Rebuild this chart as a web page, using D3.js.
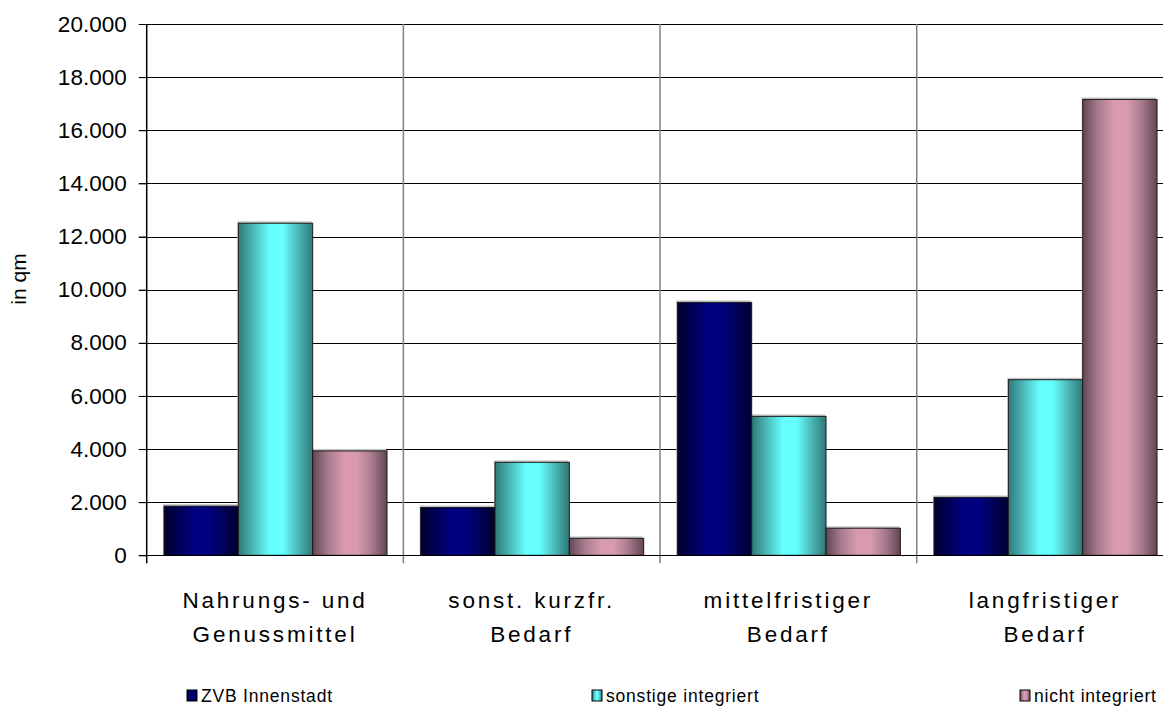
<!DOCTYPE html>
<html><head><meta charset="utf-8">
<script src="https://cdn.jsdelivr.net/npm/d3@7"></script>
<style>
html,body{margin:0;padding:0;background:#fff;overflow:hidden;}
svg{display:block;font-family:"Liberation Sans",Arial,sans-serif;}
</style></head><body>
<svg id="chart" width="1163" height="709"></svg>
<script>
const categories = [["Nahrungs- und","Genussmittel"],["sonst. kurzfr.","Bedarf"],["mittelfristiger","Bedarf"],["langfristiger","Bedarf"]];
const seriesNames = ["ZVB Innenstadt","sonstige integriert","nicht integriert"];
const zvbInnenstadt = [1850, 1800, 9520, 2180];
const sonstigeIntegriert = [12500, 3500, 5230, 6610];
const nichtIntegriert = [3930, 640, 1020, 17160];
const yTicks = [0,2000,4000,6000,8000,10000,12000,14000,16000,18000,20000];
const yLabel = "in qm";

const seriesValues = [zvbInnenstadt, sonstigeIntegriert, nichtIntegriert];
const catKeys = categories.map((c,i)=>"c"+i);

const svg = d3.select("#chart");
const pLeft = 146.7, pRight = 1173.4, pTop = 24, pBottom = 555.3;

const y = d3.scaleLinear().domain([0,20000]).range([pBottom, pTop]);
const x0 = d3.scaleBand().domain(catKeys).range([pLeft, pRight]).paddingInner(0).paddingOuter(0);
const x1 = d3.scaleBand().domain(seriesNames).range([17.3, 17.3+223]).paddingInner(0).paddingOuter(0);

const grads = [
  {id:"g0", stops:[["0%","#00002e"],["40%","#000080"],["60%","#000080"],["100%","#00002e"]]},
  {id:"g1", stops:[["0%","#2f7878"],["20%","#4cb8b8"],["42%","#66ffff"],["60%","#66ffff"],["80%","#4cb8b8"],["100%","#2f7878"]]},
  {id:"g2", stops:[["0%","#634654"],["20%","#a67a8c"],["42%","#d999b0"],["60%","#d999b0"],["80%","#a67a8c"],["100%","#634654"]]}
];
const defs = svg.append("defs");
grads.forEach(g=>{
  const lg = defs.append("linearGradient").attr("id",g.id).attr("x1","0%").attr("x2","100%").attr("y1","0%").attr("y2","0%");
  g.stops.forEach(s=>lg.append("stop").attr("offset",s[0]).attr("stop-color",s[1]));
});

// horizontal gridlines
svg.append("g").selectAll("line").data(yTicks).join("line")
  .attr("x1", 139).attr("x2", 1163)
  .attr("y1", d=>Math.round(y(d))+0.5).attr("y2", d=>Math.round(y(d))+0.5)
  .attr("stroke","#000").attr("stroke-width",1);

// vertical category separators
const seps = catKeys.slice(1).map(k=>x0(k)).concat([pRight]);
svg.append("g").selectAll("line").data(seps).join("line")
  .attr("x1", d=>d).attr("x2", d=>d).attr("y1", pTop).attr("y2", pBottom+8)
  .attr("stroke","#808080").attr("stroke-width",1.5);

// left axis
const yAxis = d3.axisLeft(y).tickValues(yTicks).tickSize(8).tickPadding(12)
  .tickFormat(d=>d3.format(",")(d).replace(/,/g,"."));
const ax = svg.append("g").attr("transform",`translate(${pLeft},0)`).call(yAxis);
ax.select(".domain").remove();
ax.selectAll(".tick line").attr("stroke","#000");
ax.selectAll(".tick text").attr("font-size",22.5).attr("fill","#000").attr("font-family","Liberation Sans, Arial, sans-serif");
svg.append("line").attr("x1",pLeft).attr("x2",pLeft).attr("y1",pTop).attr("y2",pBottom+8).attr("stroke","#000").attr("stroke-width",1.5);

// bars
const gBars = svg.append("g");
catKeys.forEach((k,ci)=>{
  seriesNames.forEach((s,si)=>{
    const v = seriesValues[si][ci];
    const bx = x0(k)+x1(s), bw = x1.bandwidth();
    gBars.append("rect").attr("x",bx-1).attr("y",y(v)-2).attr("width",bw).attr("height",pBottom-y(v)+2)
      .attr("fill","#c8c8c8");
  });
});
catKeys.forEach((k,ci)=>{
  seriesNames.forEach((s,si)=>{
    const v = seriesValues[si][ci];
    const bx = x0(k)+x1(s), bw = x1.bandwidth();
    gBars.append("rect").attr("x",bx).attr("y",y(v)).attr("width",bw).attr("height",pBottom-y(v))
      .attr("fill",`url(#g${si})`).attr("stroke","#1a1a1a").attr("stroke-width",1);
  });
});
// baseline redraw
svg.append("line").attr("x1",139).attr("x2",1163).attr("y1",Math.round(pBottom)+0.5).attr("y2",Math.round(pBottom)+0.5).attr("stroke","#000");

// category labels
const cl = svg.append("g");
categories.forEach((c,i)=>{
  const cx = x0(catKeys[i]) + x0.bandwidth()/2;
  c.forEach((line,li)=>{
    cl.append("text").attr("x",cx).attr("y",608+li*34).attr("text-anchor","middle")
      .attr("font-size",22.5).attr("letter-spacing","2.8px").attr("fill","#000").text(line);
  });
});

// y label
svg.append("text").attr("transform","translate(26,279) rotate(-90)").attr("text-anchor","middle")
  .attr("font-size",21).attr("fill","#000").text(yLabel);

// legend
const legX = [187, 592, 1020];
const leg = svg.append("g");
seriesNames.forEach((s,i)=>{
  leg.append("rect").attr("x",legX[i]).attr("y",690).attr("width",10).attr("height",11)
    .attr("fill",`url(#g${i})`).attr("stroke","#000").attr("stroke-width",1);
  leg.append("text").attr("x",legX[i]+14).attr("y",702).attr("font-size",17.5).attr("letter-spacing","0.8px")
    .attr("fill","#000").text(s);
});
</script>
</body></html>
